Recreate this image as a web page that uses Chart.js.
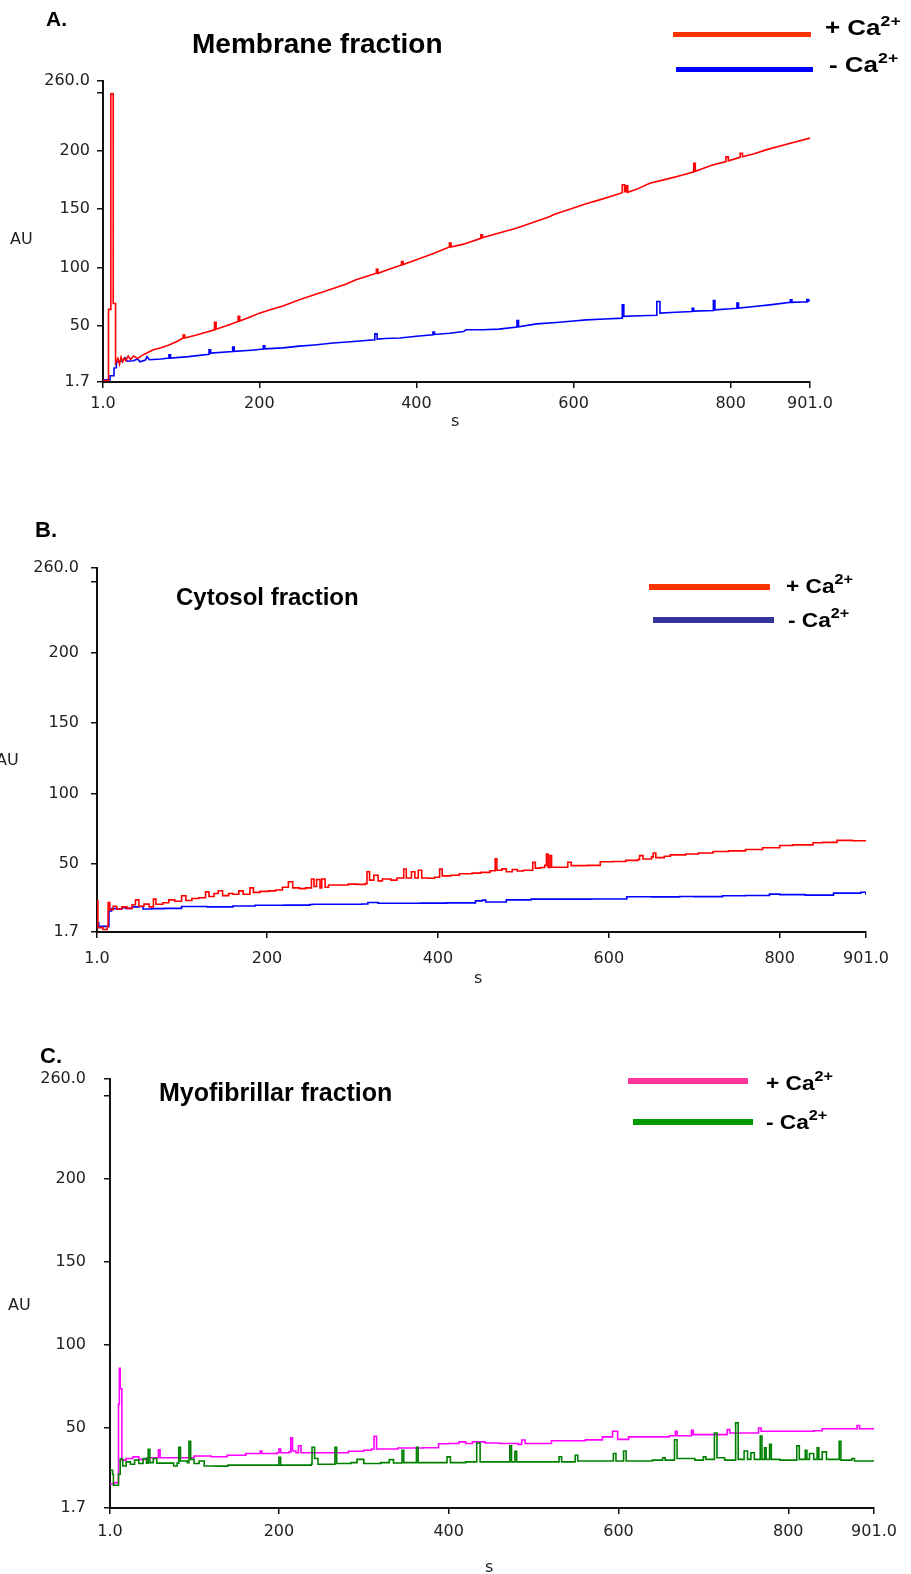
<!DOCTYPE html>
<html>
<head>
<meta charset="utf-8">
<script src="https://cdn.jsdelivr.net/npm/chart.js@4.4.1/dist/chart.umd.min.js"></script>
<style>
  html, body { margin: 0; padding: 0; background: #fff; }
  #page { position: relative; width: 911px; height: 1574px; overflow: hidden; font-family: "Liberation Sans", Arial, sans-serif; }
  canvas { position: absolute; left: 0; }
  .t { position: absolute; white-space: nowrap; line-height: 1; color: #000; }
  .b { font-weight: bold; }
  .ax { font-family: "DejaVu Sans", sans-serif; font-size: 16px; color: #222; }
  .key { position: absolute; }
  .lg { position: absolute; white-space: nowrap; line-height: 1; font-weight: bold; font-size: 22px; transform: scaleX(1.18); transform-origin: left top; }
  .lg sup { font-size: 15px; vertical-align: 9px; line-height: 0; }
</style>
</head>
<body>
<div id="page">
  <canvas id="chartA" width="911" height="440" style="top:0px"></canvas>
  <canvas id="chartB" width="911" height="540" style="top:440px"></canvas>
  <canvas id="chartC" width="911" height="594" style="top:980px"></canvas>

  <!-- panel A -->
  <div class="t b" style="left:46px; top:8px; font-size:21px;">A.</div>
  <div class="t b" style="left:192px; top:30px; font-size:28px;">Membrane fraction</div>
  <div class="key" style="left:673px; top:32px; width:138px; height:5px; background:#ff3300;"></div>
  <div class="key" style="left:676px; top:67px; width:137px; height:5px; background:#0000ff;"></div>
  <div class="lg" style="left:825px; top:17px;">+ Ca<sup>2+</sup></div>
  <div class="lg" style="left:829px; top:54px;">- Ca<sup>2+</sup></div>
  <div class="t ax" style="left:10px; top:231px;">AU</div>
  <div class="t ax" style="left:451px; top:413px;">s</div>

  <!-- panel B -->
  <div class="t b" style="left:35px; top:519px; font-size:22px;">B.</div>
  <div class="t b" style="left:176px; top:585px; font-size:24px;">Cytosol fraction</div>
  <div class="key" style="left:649px; top:584px; width:121px; height:6px; background:#ff3300;"></div>
  <div class="key" style="left:653px; top:617px; width:121px; height:6px; background:#333399;"></div>
  <div class="lg" style="left:786px; top:575px; font-size:21px; transform:scaleX(1.08);">+ Ca<sup>2+</sup></div>
  <div class="lg" style="left:788px; top:609px; font-size:21px; transform:scaleX(1.08);">- Ca<sup>2+</sup></div>
  <div class="t ax" style="left:-4px; top:752px;">AU</div>
  <div class="t ax" style="left:474px; top:970px;">s</div>

  <!-- panel C -->
  <div class="t b" style="left:40px; top:1045px; font-size:22px;">C.</div>
  <div class="t b" style="left:159px; top:1080px; font-size:25px;">Myofibrillar fraction</div>
  <div class="key" style="left:628px; top:1078px; width:120px; height:6px; background:#ff3399;"></div>
  <div class="key" style="left:633px; top:1119px; width:120px; height:6px; background:#009900;"></div>
  <div class="lg" style="left:766px; top:1072px; font-size:21px; transform:scaleX(1.08);">+ Ca<sup>2+</sup></div>
  <div class="lg" style="left:766px; top:1111px; font-size:21px; transform:scaleX(1.08);">- Ca<sup>2+</sup></div>
  <div class="t ax" style="left:8px; top:1297px;">AU</div>
  <div class="t ax" style="left:485px; top:1559px;">s</div>
</div>

<script>
// axis ticks shared by all three panels
const xTickValues = [1, 200, 400, 600, 800, 901];
const xTickLabels = ['1.0', '200', '400', '600', '800', '901.0'];
const yTickValues = [1.7, 50, 100, 150, 200, 250, 260];
const yTickLabels = ['1.7', '50', '100', '150', '200', '', '260.0'];

// A. Membrane fraction  [time s, AU]
const membranePlus = [
  [1, 3], [8, 3], [8, 64], [11, 64], [11, 249], [14, 249], [14, 69], [17, 69], [17, 18], [20, 22],
  [22, 17], [24, 23], [26, 19], [28, 22], [30, 20], [33, 24], [36, 21], [40, 24], [45, 22], [52, 25],
  [58, 27], [65, 29.3], [75, 31], [85, 33.5], [95, 36.5], [103, 39.4], [103, 42], [105, 42], [105, 39.5], [120, 42],
  [130, 44], [143, 46.5], [143, 53], [145, 53], [145, 47], [160, 50.5], [173, 53.6], [173, 58], [175, 58], [175, 54],
  [190, 58], [200, 60.8], [215, 64], [230, 67], [251, 72.2], [270, 76.5], [294, 82], [310, 85.5], [323, 89.4], [335, 92],
  [349, 95], [349, 98.5], [351, 98.5], [351, 95], [365, 98.5], [381, 102.2], [381, 105], [383, 105], [383, 102.5], [399, 106.5],
  [420, 111.5], [442, 117.5], [442, 121], [444, 121], [444, 117.5], [460, 120], [482, 125], [482, 128], [484, 128], [484, 125.5],
  [505, 129.5], [527, 133.7], [550, 139], [570, 143.7], [575, 145.5], [599, 150.9], [615, 154.5], [633, 158], [650, 161.5], [662, 164.2],
  [662, 171], [665, 171], [665, 165], [667, 165], [667, 170], [669, 170], [669, 164.5], [680, 167], [697, 172.3], [720, 176],
  [739, 179.4], [753, 182], [753, 189.4], [755, 189.4], [755, 182.5], [775, 187.5], [794, 190.8], [794, 195], [797, 195], [797, 191.5],
  [812, 194.5], [812, 198], [815, 198], [815, 195], [830, 197.5], [845, 200.9], [870, 205.5], [901, 211]
];
const membraneMinus = [
  [1, 3.5], [10, 3.5], [10, 7], [15, 7], [15, 13.5], [18, 14], [18, 19], [25, 19.5], [29, 22.5], [32, 19.5],
  [40, 20], [45, 21.5], [48, 19], [55, 20.5], [57, 23.5], [60, 20.8], [75, 21.5], [85, 22.2], [85, 25], [87, 25],
  [87, 22.2], [110, 23.5], [136, 25.5], [136, 29.3], [138, 29.3], [138, 26.5], [166, 27.9], [166, 31.6], [168, 31.6], [168, 28],
  [190, 29], [205, 29.9], [205, 32.8], [207, 32.8], [207, 30.2], [230, 31], [251, 32.5], [270, 33.5], [294, 35.1], [320, 36.5],
  [347, 37.9], [347, 43], [350, 43], [350, 38.5], [360, 39], [379, 39.4], [400, 41], [421, 42.2], [421, 44.5], [423, 44.5],
  [423, 42.5], [442, 43.6], [460, 45], [463, 46.5], [485, 46.5], [505, 47.1], [528, 48.8], [528, 54.5], [530, 54.5], [530, 49],
  [553, 51.6], [578, 52.8], [600, 54], [616, 55], [640, 55.8], [662, 56.5], [662, 67.9], [664, 67.9], [664, 58], [685, 58.5],
  [706, 59], [706, 70.8], [710, 70.8], [710, 60.8], [730, 61.5], [751, 62.2], [751, 65], [753, 65], [753, 62.5], [778, 63],
  [778, 71.6], [780, 71.6], [780, 63.6], [800, 64.5], [808, 65], [808, 69.4], [810, 69.4], [810, 65.2], [830, 66.5], [850, 67.9],
  [876, 70], [876, 72.2], [878, 72.2], [878, 70], [897, 70.5], [897, 72.5], [899, 72.5], [899, 71], [901, 72]
];

// B. Cytosol fraction (step trace)
const cytosolPlus = [
  [1, 23.8], [2, 4.8], [8, 3.5], [13, 5.5], [14, 22.6], [16, 17.5], [20, 20], [24, 18], [30, 19.5], [36, 18.5],
  [42, 21], [46, 24.5], [50, 20], [56, 21.5], [62, 19.5], [67, 25], [70, 21.4], [78, 22.5], [85, 24.5], [92, 23.5],
  [100, 27.4], [105, 24], [112, 25.5], [120, 26], [128, 30.2], [132, 26.9], [138, 29], [143, 31], [148, 27.5], [155, 29],
  [160, 28.5], [167, 30.9], [172, 28.5], [180, 33], [184, 29.8], [192, 30.5], [202, 30.9], [210, 31.5], [218, 33.5], [225, 37.4],
  [230, 33], [238, 32.5], [245, 33], [252, 39.3], [255, 34], [258, 39], [262, 33], [264, 39.3], [268, 33.5], [272, 35],
  [285, 35], [295, 35.7], [305, 35.5], [315, 36], [317, 44.5], [320, 38.5], [325, 42], [330, 38], [335, 39.3], [345, 38.5],
  [352, 40], [360, 46.4], [363, 40], [369, 44.5], [373, 40], [377, 45.5], [381, 40], [389, 39.8], [396, 40.5], [402, 46.4],
  [405, 41.5], [415, 42], [425, 43], [440, 43.5], [450, 44], [461, 45.2], [467, 53.6], [469, 45.5], [475, 46.5], [480, 44.5],
  [487, 46], [493, 45], [500, 45.5], [511, 51.2], [514, 47], [520, 47.5], [525, 49], [527, 57.1], [529, 47.5], [531, 56],
  [533, 47.6], [540, 47.6], [552, 51.2], [556, 48.8], [575, 49], [590, 51.5], [605, 51.7], [620, 52.5], [634, 53.1], [636, 55.9],
  [640, 53.5], [650, 55], [652, 57.8], [655, 54.5], [665, 55.5], [672, 56.4], [690, 57], [705, 57.8], [722, 58.8], [740, 59.3],
  [760, 60.2], [780, 61.5], [800, 63.1], [815, 63.5], [839, 65], [850, 65.3], [867, 66.7], [885, 66.5], [901, 66.7]
];
const cytosolMinus = [
  [1, 8.3], [3, 5.7], [14, 5.7], [15, 16.6], [18, 18.3], [25, 18], [30, 19], [35, 18.5], [42, 19.5], [50, 19.8],
  [55, 18], [65, 18.3], [80, 18.5], [100, 19.8], [130, 19.5], [160, 20.2], [186, 20.7], [220, 20.8], [250, 21.2], [254, 21.4],
  [290, 21.4], [311, 21.6], [318, 22.6], [330, 22.1], [380, 22.2], [410, 22.4], [444, 23.8], [452, 24.3], [456, 23], [480, 24.5],
  [509, 25], [550, 25], [580, 25.1], [621, 26.7], [650, 26.6], [683, 26.9], [700, 26.8], [733, 27.4], [760, 27.6], [788, 28.6],
  [800, 28.2], [830, 27.9], [863, 29.3], [895, 29.9], [901, 28]
];

// C. Myofibrillar fraction (step trace)
const myoPlus = [
  [1, 16.3], [6, 17], [10, 17], [11, 64.3], [12, 85.8], [13, 73.5], [14, 73.5], [15, 30.5], [20, 31.5], [28, 32.5],
  [35, 31], [45, 32], [55, 32], [58, 36.7], [60, 32], [80, 32], [100, 33], [120, 32.6], [139, 33.5], [161, 34.5],
  [176, 34.5], [178, 36], [180, 34.5], [198, 35], [200, 37.2], [202, 35], [212, 35.5], [214, 43.9], [216, 36], [220, 35],
  [223, 39.2], [226, 35], [250, 35], [282, 35.9], [300, 36.5], [309, 37.2], [312, 44.9], [315, 37.2], [340, 37.8], [370, 38],
  [388, 40.4], [400, 40.5], [412, 41.5], [420, 40.5], [428, 41.5], [443, 40.8], [460, 40.5], [482, 40], [486, 42.6], [490, 40.5],
  [521, 42.2], [561, 42.7], [581, 44.5], [593, 47.9], [598, 47.9], [599, 43], [612, 44.5], [640, 44.5], [660, 45.2], [667, 47.9],
  [669, 45.2], [686, 48.5], [688, 45.9], [710, 45.9], [728, 48.9], [731, 46.9], [760, 46.9], [765, 49.9], [768, 47.9], [800, 47.9],
  [830, 48.2], [840, 49.4], [870, 49.4], [881, 51.4], [884, 49.4], [901, 50]
];
const myoMinus = [
  [1, 24.4], [4, 22], [5, 15.4], [9, 15.4], [11, 22], [13, 31.1], [16, 27], [20, 29.5], [25, 28], [30, 30.5],
  [35, 28.5], [40, 31.5], [44, 28.7], [46, 37.1], [48, 29], [52, 31.5], [56, 28.7], [70, 28.7], [76, 27], [80, 28.7],
  [82, 38.3], [84, 30], [92, 29], [94, 41.8], [96, 31], [100, 28.5], [106, 30], [112, 27], [125, 26.9], [140, 27.5],
  [160, 27.5], [180, 27.5], [198, 27.5], [200, 32.2], [202, 27.5], [220, 27.5], [238, 28], [239, 38.3], [242, 31.5], [246, 28],
  [260, 28], [266, 38.3], [268, 28.5], [285, 29], [292, 31], [300, 28.5], [320, 29], [330, 30.8], [335, 28.8], [345, 36.5],
  [347, 29], [362, 38.3], [364, 29], [380, 29], [398, 32.5], [402, 29], [420, 29.5], [433, 40.8], [435, 40.8], [437, 29.5],
  [455, 29.5], [472, 39.1], [474, 29.5], [478, 35.8], [480, 29.5], [510, 29.5], [530, 32.6], [533, 29.5], [549, 33.5], [552, 30],
  [580, 30], [594, 34.5], [597, 30], [606, 36], [609, 30], [640, 30.5], [652, 32], [655, 30.5], [666, 42.8], [669, 31.5],
  [690, 30.5], [700, 32.5], [703, 31], [713, 46.9], [716, 32], [725, 30.5], [738, 53], [741, 31], [748, 36], [752, 31],
  [756, 35], [760, 31], [767, 45], [769, 31], [772, 38], [774, 31], [778, 40], [780, 31], [790, 30.5], [800, 30.5],
  [810, 39.1], [813, 31], [820, 36.5], [822, 31], [825, 34.5], [830, 31], [834, 38], [836, 31], [840, 35.5], [845, 31],
  [860, 41.8], [862, 30.5], [875, 31.5], [878, 30], [901, 30]
];

const tickFont = { family: 'DejaVu Sans', size: 16 };

function toPoints(series) {
  return series.map(function(p) { return { x: p[0], y: p[1] }; });
}

function createChart(id, plus, minus, plusColor, minusColor, box) {
  return new Chart(document.getElementById(id), {
    type: 'line',
    data: {
      datasets: [{
        data: toPoints(plus),
        borderColor: plusColor,
        borderWidth: 1.6,
        pointRadius: 0,
        tension: 0,
        stepped: box.stepped,
        order: box.plusOnTop ? 0 : 1
      }, {
        data: toPoints(minus),
        borderColor: minusColor,
        borderWidth: 1.6,
        pointRadius: 0,
        tension: 0,
        stepped: box.stepped,
        order: box.plusOnTop ? 1 : 0
      }]
    },
    options: {
      responsive: false,
      animation: false,
      events: [],
      layout: { padding: { left: 0, right: box.right, top: box.top, bottom: box.bottom } },
      plugins: { legend: { display: false }, tooltip: { enabled: false } },
      scales: {
        x: {
          type: 'linear',
          min: 1,
          max: 901,
          afterBuildTicks: function(axis) { axis.ticks = xTickValues.map(function(v) { return { value: v }; }); },
          afterFit: function(scale) { scale.height = box.xHeight; },
          ticks: {
            autoSkip: false,
            maxRotation: 0,
            padding: box.xPad,
            color: '#222',
            font: tickFont,
            callback: function(v) { return xTickLabels[xTickValues.indexOf(v)]; }
          },
          grid: { drawOnChartArea: false, drawTicks: true, tickLength: 6, color: '#111', lineWidth: 1.5 },
          border: { display: true, color: '#111', width: 2 }
        },
        y: {
          type: 'linear',
          min: 1.7,
          max: 260,
          afterBuildTicks: function(axis) { axis.ticks = yTickValues.map(function(v) { return { value: v }; }); },
          afterFit: function(scale) { scale.width = box.left; },
          ticks: {
            autoSkip: false,
            padding: box.yPad,
            color: '#222',
            font: tickFont,
            callback: function(v) { return yTickLabels[yTickValues.indexOf(v)]; }
          },
          grid: { drawOnChartArea: false, drawTicks: true, tickLength: 6, color: '#111', lineWidth: 1.5 },
          border: { display: true, color: '#111', width: 2 }
        }
      }
    }
  });
}

createChart('chartA', membranePlus, membraneMinus, '#ff0000', '#0000ff',
  { left: 103, right: 101, top: 81, bottom: 8, xHeight: 50, xPad: 6, yPad: 7, stepped: false, plusOnTop: true });
createChart('chartB', cytosolPlus, cytosolMinus, '#ff0000', '#0000ff',
  { left: 97, right: 45, top: 128, bottom: 8, xHeight: 40, xPad: 11, yPad: 12, stepped: true, plusOnTop: true });
createChart('chartC', myoPlus, myoMinus, '#ff00ff', '#008000',
  { left: 110, right: 37, top: 99, bottom: 26, xHeight: 40, xPad: 8, yPad: 18, stepped: true, plusOnTop: false });
</script>
</body>
</html>
